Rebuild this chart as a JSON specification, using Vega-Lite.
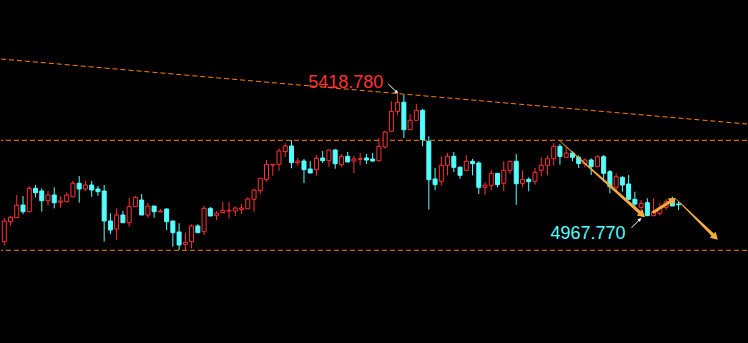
{
"$schema": "https://vega.github.io/schema/vega-lite/v6.json",
"width": 748, "height": 343, "padding": 0,
"autosize": {"type": "fit", "contains": "padding"},
"background": "#000000",
"config": {"view": {"stroke": null}, "scale": {"continuousPadding": 0}},
"datasets": {
"candles": [
{"i":0,"o":4872.8,"h":4960.4,"l":4858.0,"c":4949.3},
{"i":1,"o":4946.7,"h":4968.9,"l":4931.9,"c":4963.0},
{"i":2,"o":4961.5,"h":5045.4,"l":4961.5,"c":5007.3},
{"i":3,"o":5008.4,"h":5041.7,"l":4975.2,"c":4983.7},
{"i":4,"o":4983.7,"h":5078.7,"l":4983.7,"c":5070.2},
{"i":5,"o":5070.2,"h":5082.4,"l":5036.9,"c":5053.9},
{"i":6,"o":5060.2,"h":5070.2,"l":4983.7,"c":5024.3},
{"i":7,"o":5024.3,"h":5060.2,"l":5005.9,"c":5045.4},
{"i":8,"o":5045.4,"h":5073.9,"l":4996.2,"c":5016.9},
{"i":9,"o":5018.4,"h":5040.6,"l":4998.5,"c":5023.2},
{"i":10,"o":5020.6,"h":5055.4,"l":5020.6,"c":5045.4},
{"i":11,"o":5039.1,"h":5097.2,"l":5039.1,"c":5088.7},
{"i":12,"o":5088.7,"h":5115.6,"l":5016.9,"c":5067.6},
{"i":13,"o":5067.6,"h":5097.2,"l":5060.2,"c":5082.4},
{"i":14,"o":5082.4,"h":5097.2,"l":5039.1,"c":5063.9},
{"i":15,"o":5067.6,"h":5078.7,"l":5042.8,"c":5057.6},
{"i":16,"o":5060.2,"h":5082.4,"l":4872.8,"c":4949.3},
{"i":17,"o":4949.3,"h":4977.8,"l":4900.1,"c":4916.0},
{"i":18,"o":4919.7,"h":4996.2,"l":4879.1,"c":4971.5},
{"i":19,"o":4971.5,"h":4986.3,"l":4943.0,"c":4943.0},
{"i":20,"o":4943.0,"h":5033.2,"l":4928.2,"c":5002.2},
{"i":21,"o":5002.2,"h":5041.7,"l":5002.2,"c":5036.9},
{"i":22,"o":5026.9,"h":5049.1,"l":4971.5,"c":4971.5},
{"i":23,"o":4971.5,"h":5015.8,"l":4961.5,"c":5004.7},
{"i":24,"o":5004.7,"h":5004.7,"l":4961.5,"c":4983.7},
{"i":25,"o":4982.6,"h":4993.6,"l":4982.6,"c":4986.3},
{"i":26,"o":4993.6,"h":4996.2,"l":4916.0,"c":4946.7},
{"i":27,"o":4949.3,"h":4949.3,"l":4854.3,"c":4906.0},
{"i":28,"o":4908.6,"h":4940.8,"l":4842.1,"c":4860.6},
{"i":29,"o":4863.2,"h":4906.0,"l":4842.1,"c":4870.6},
{"i":30,"o":4872.8,"h":4937.1,"l":4848.4,"c":4930.8},
{"i":31,"o":4930.8,"h":4937.1,"l":4906.0,"c":4906.0},
{"i":32,"o":4909.7,"h":5005.9,"l":4897.5,"c":4996.2},
{"i":33,"o":4996.2,"h":5001.0,"l":4967.8,"c":4967.8},
{"i":34,"o":4968.9,"h":4986.3,"l":4953.0,"c":4977.8},
{"i":35,"o":4980.0,"h":5019.5,"l":4980.0,"c":4988.8},
{"i":36,"o":4986.3,"h":5019.5,"l":4959.3,"c":4988.8},
{"i":37,"o":4986.3,"h":5002.2,"l":4967.8,"c":4997.3},
{"i":38,"o":4992.5,"h":5011.0,"l":4975.2,"c":4997.3},
{"i":39,"o":4994.8,"h":5036.9,"l":4994.8,"c":5030.6},
{"i":40,"o":5029.5,"h":5067.6,"l":4983.7,"c":5063.9},
{"i":41,"o":5061.3,"h":5107.1,"l":5049.1,"c":5107.1},
{"i":42,"o":5103.4,"h":5174.8,"l":5094.6,"c":5158.9},
{"i":43,"o":5156.3,"h":5158.9,"l":5116.8,"c":5158.9},
{"i":44,"o":5158.9,"h":5218.0,"l":5135.2,"c":5208.1},
{"i":45,"o":5205.5,"h":5236.5,"l":5187.0,"c":5226.6},
{"i":46,"o":5226.6,"h":5248.7,"l":5144.1,"c":5164.8},
{"i":47,"o":5164.8,"h":5182.2,"l":5153.7,"c":5171.1},
{"i":48,"o":5171.1,"h":5178.5,"l":5089.8,"c":5138.9},
{"i":49,"o":5141.5,"h":5170.0,"l":5126.7,"c":5126.7},
{"i":50,"o":5138.9,"h":5193.3,"l":5116.8,"c":5181.1},
{"i":51,"o":5182.2,"h":5208.1,"l":5163.7,"c":5172.2},
{"i":52,"o":5172.2,"h":5211.8,"l":5148.9,"c":5211.8},
{"i":53,"o":5211.8,"h":5215.5,"l":5142.6,"c":5161.1},
{"i":54,"o":5157.4,"h":5197.0,"l":5148.9,"c":5188.5},
{"i":55,"o":5188.5,"h":5204.4,"l":5167.4,"c":5167.4},
{"i":56,"o":5171.1,"h":5189.6,"l":5126.7,"c":5178.5},
{"i":57,"o":5177.4,"h":5200.7,"l":5155.2,"c":5179.6},
{"i":58,"o":5182.2,"h":5197.0,"l":5160.0,"c":5174.8},
{"i":59,"o":5178.5,"h":5200.7,"l":5167.4,"c":5171.1},
{"i":60,"o":5172.2,"h":5256.1,"l":5172.2,"c":5225.4},
{"i":61,"o":5222.9,"h":5282.0,"l":5216.6,"c":5278.3},
{"i":62,"o":5280.9,"h":5391.8,"l":5280.9,"c":5354.8},
{"i":63,"o":5354.8,"h":5418.78,"l":5340.0,"c":5388.1},
{"i":64,"o":5388.1,"h":5416.2,"l":5256.1,"c":5286.8},
{"i":65,"o":5286.8,"h":5344.8,"l":5286.8,"c":5321.6},
{"i":66,"o":5321.6,"h":5381.8,"l":5321.6,"c":5358.5},
{"i":67,"o":5358.5,"h":5364.4,"l":5225.4,"c":5249.8},
{"i":68,"o":5243.9,"h":5262.4,"l":4991.1,"c":5102.0},
{"i":69,"o":5104.6,"h":5145.2,"l":5062.8,"c":5083.5},
{"i":70,"o":5096.1,"h":5188.5,"l":5079.8,"c":5155.2},
{"i":71,"o":5155.2,"h":5200.7,"l":5118.2,"c":5188.5},
{"i":72,"o":5188.5,"h":5204.4,"l":5130.4,"c":5147.8},
{"i":73,"o":5147.8,"h":5151.5,"l":5105.7,"c":5118.2},
{"i":74,"o":5136.7,"h":5192.2,"l":5136.7,"c":5170.0},
{"i":75,"o":5170.0,"h":5178.5,"l":5118.2,"c":5161.1},
{"i":76,"o":5163.7,"h":5170.0,"l":5049.1,"c":5073.9},
{"i":77,"o":5073.9,"h":5092.4,"l":5046.5,"c":5081.3},
{"i":78,"o":5081.3,"h":5138.9,"l":5062.8,"c":5125.6},
{"i":79,"o":5125.6,"h":5125.6,"l":5073.9,"c":5083.5},
{"i":80,"o":5088.7,"h":5170.0,"l":5059.1,"c":5136.7},
{"i":81,"o":5136.7,"h":5170.0,"l":5123.0,"c":5170.0},
{"i":82,"o":5170.0,"h":5197.0,"l":5009.5,"c":5087.2},
{"i":83,"o":5088.7,"h":5136.7,"l":5076.1,"c":5103.4},
{"i":84,"o":5103.4,"h":5110.8,"l":5059.1,"c":5094.6},
{"i":85,"o":5096.1,"h":5145.2,"l":5083.5,"c":5129.3},
{"i":86,"o":5136.7,"h":5184.8,"l":5114.5,"c":5155.2},
{"i":87,"o":5155.2,"h":5192.2,"l":5118.2,"c":5179.6},
{"i":88,"o":5179.6,"h":5237.6,"l":5155.2,"c":5225.4},
{"i":89,"o":5225.4,"h":5233.9,"l":5157.4,"c":5188.5},
{"i":90,"o":5184.8,"h":5221.7,"l":5184.8,"c":5200.7},
{"i":91,"o":5200.7,"h":5207.0,"l":5170.0,"c":5184.8},
{"i":92,"o":5184.8,"h":5192.2,"l":5145.2,"c":5161.9},
{"i":93,"o":5160.0,"h":5181.1,"l":5147.8,"c":5174.8},
{"i":94,"o":5174.8,"h":5181.1,"l":5119.3,"c":5150.0},
{"i":95,"o":5150.0,"h":5193.3,"l":5150.0,"c":5187.0},
{"i":96,"o":5187.0,"h":5193.3,"l":5094.6,"c":5125.6},
{"i":97,"o":5131.5,"h":5137.8,"l":5051.7,"c":5076.1},
{"i":98,"o":5073.9,"h":5125.6,"l":5061.3,"c":5113.1},
{"i":99,"o":5110.8,"h":5115.6,"l":5057.6,"c":5082.4},
{"i":100,"o":5086.1,"h":5119.3,"l":5029.5,"c":5029.5},
{"i":101,"o":5029.5,"h":5057.6,"l":5002.2,"c":5012.1},
{"i":102,"o":4999.9,"h":5026.9,"l":4977.8,"c":5014.7},
{"i":103,"o":5016.9,"h":5033.2,"l":4967.77,"c":4968.9},
{"i":104,"o":4968.9,"h":5033.2,"l":4968.9,"c":4983.7},
{"i":105,"o":4977.8,"h":5016.9,"l":4968.9,"c":4996.2},
{"i":106,"o":4999.9,"h":5029.5,"l":4989.9,"c":5020.6},
{"i":107,"o":5029.5,"h":5039.1,"l":5004.7,"c":5004.7},
{"i":108,"o":5012.1,"h":5020.6,"l":4989.9,"c":5009.5}
],
"levels": [{"p":5247.6},{"p":4841.0}],
"trend": [{"i1":-0.527,"p1":5548.2,"i2":118.96,"p2":5307.9}],
"shafts": [
{"a":1,"s":0,"i":88.93,"p":5246.1},{"a":1,"s":1,"i":102.19,"p":4972.2},
{"a":2,"s":0,"i":103.83,"p":4980.0},{"a":2,"s":1,"i":107.12,"p":5027.7},
{"a":3,"s":0,"i":107.67,"p":5029.6},{"a":3,"s":1,"i":113.88,"p":4889.4}
],
"heads": [{"a":1,"i":102.19,"p":4972.2},{"a":2,"i":107.12,"p":5027.7},{"a":3,"i":113.88,"p":4889.4}],
"wlines": [
{"w":1,"i":61.5,"p":5455.8},{"w":1,"i":63.05,"p":5421.4},
{"w":2,"i":100.48,"p":4924.5},{"w":2,"i":101.98,"p":4959.3}
],
"wheads": [{"w":1,"i":62.85,"p":5425.4},{"w":2,"i":101.8,"p":4955.0}],
"labels": [
{"k":"hi","i":61.5,"p":5455.8,"t":"5418.780"},
{"k":"lo","i":100.48,"p":4924.5,"t":"4967.770"}
]
},
"layer": [
{"data":{"name":"levels"},"mark":{"type":"rule","color":"#ff8000","strokeWidth":1,"strokeDash":[5,3]},
 "encoding":{"y":{"field":"p","type":"quantitative","scale":{"domain":[4498.3,5766.3],"nice":false,"zero":false},"axis":null}}},
{"data":{"name":"trend"},"mark":{"type":"rule","color":"#ff8000","strokeWidth":1,"strokeDash":[5,3]},
 "encoding":{
  "x":{"field":"i1","type":"quantitative","scale":{"domain":[-0.527,118.96],"nice":false,"zero":false,"padding":0},"axis":null},
  "y":{"field":"p1","type":"quantitative","scale":{"domain":[4498.3,5766.3],"nice":false,"zero":false},"axis":null},
  "x2":{"field":"i2"},"y2":{"field":"p2"}}},
{"data":{"name":"candles"},"mark":{"type":"rule","strokeWidth":1},
 "encoding":{
  "x":{"field":"i","type":"quantitative","scale":{"domain":[-0.527,118.96],"nice":false,"zero":false,"padding":0},"axis":null},
  "y":{"field":"l","type":"quantitative","scale":{"domain":[4498.3,5766.3],"nice":false,"zero":false},"axis":null},
  "y2":{"field":"h"},
  "color":{"condition":{"test":"datum.c >= datum.o","value":"#ff3232"},"value":"#54ffff"}}},
{"data":{"name":"candles"},"mark":{"type":"bar","width":4,"strokeWidth":1},
 "encoding":{
  "x":{"field":"i","type":"quantitative","scale":{"domain":[-0.527,118.96],"nice":false,"zero":false,"padding":0},"axis":null},
  "y":{"field":"o","type":"quantitative","scale":{"domain":[4498.3,5766.3],"nice":false,"zero":false},"axis":null},
  "y2":{"field":"c"},
  "fill":{"condition":{"test":"datum.c >= datum.o","value":"#000000"},"value":"#54ffff"},
  "stroke":{"condition":{"test":"datum.c >= datum.o","value":"#ff3232"},"value":"#54ffff"}}},
{"data":{"name":"shafts"},"transform":[{"filter":"datum.a != 2"}],"mark":{"type":"trail","color":"#f7ac3a"},
 "encoding":{
  "x":{"field":"i","type":"quantitative","axis":null},
  "y":{"field":"p","type":"quantitative","axis":null},
  "size":{"field":"s","type":"quantitative","scale":{"domain":[0,1],"range":[0.5,3.5]},"legend":null},
  "detail":{"field":"a"},
  "order":{"field":"s"}}},
{"data":{"name":"shafts"},"transform":[{"filter":"datum.a == 2"}],"mark":{"type":"line","color":"#f7ac3a","strokeWidth":3},
 "encoding":{
  "x":{"field":"i","type":"quantitative","axis":null},
  "y":{"field":"p","type":"quantitative","axis":null},
  "order":{"field":"s"}}},
{"data":{"name":"heads"},"transform":[{"filter":"datum.a == 1"}],"mark":{"type":"point","shape":"triangle-up","filled":true,"size":70,"angle":131.7,"color":"#f7ac3a","opacity":1},
 "encoding":{"x":{"field":"i","type":"quantitative","axis":null},"y":{"field":"p","type":"quantitative","axis":null}}},
{"data":{"name":"heads"},"transform":[{"filter":"datum.a == 2"}],"mark":{"type":"point","shape":"triangle-up","filled":true,"size":70,"angle":58.4,"color":"#f7ac3a","opacity":1},
 "encoding":{"x":{"field":"i","type":"quantitative","axis":null},"y":{"field":"p","type":"quantitative","axis":null}}},
{"data":{"name":"heads"},"transform":[{"filter":"datum.a == 3"}],"mark":{"type":"point","shape":"triangle-up","filled":true,"size":70,"angle":134.6,"color":"#f7ac3a","opacity":1},
 "encoding":{"x":{"field":"i","type":"quantitative","axis":null},"y":{"field":"p","type":"quantitative","axis":null}}},
{"data":{"name":"wlines"},"mark":{"type":"line","color":"#ffffff","strokeWidth":1},
 "encoding":{
  "x":{"field":"i","type":"quantitative","axis":null},
  "y":{"field":"p","type":"quantitative","axis":null},
  "detail":{"field":"w"}}},
{"data":{"name":"wheads"},"transform":[{"filter":"datum.w == 1"}],"mark":{"type":"point","shape":"triangle-up","filled":true,"size":14,"angle":133.8,"color":"#ffffff","opacity":1},
 "encoding":{"x":{"field":"i","type":"quantitative","axis":null},"y":{"field":"p","type":"quantitative","axis":null}}},
{"data":{"name":"wheads"},"transform":[{"filter":"datum.w == 2"}],"mark":{"type":"point","shape":"triangle-up","filled":true,"size":14,"angle":45,"color":"#ffffff","opacity":1},
 "encoding":{"x":{"field":"i","type":"quantitative","axis":null},"y":{"field":"p","type":"quantitative","axis":null}}},
{"data":{"name":"labels"},"transform":[{"filter":"datum.k == 'hi'"}],"mark":{"type":"text","font":"Liberation Sans","fontSize":18,"align":"right","baseline":"alphabetic","dx":-5,"dy":4.5,"color":"#ff3232"},
 "encoding":{"x":{"field":"i","type":"quantitative","axis":null},"y":{"field":"p","type":"quantitative","axis":null},"text":{"field":"t"}}},
{"data":{"name":"labels"},"transform":[{"filter":"datum.k == 'lo'"}],"mark":{"type":"text","font":"Liberation Sans","fontSize":18,"align":"right","baseline":"alphabetic","dx":-6,"dy":11,"color":"#54ffff"},
 "encoding":{"x":{"field":"i","type":"quantitative","axis":null},"y":{"field":"p","type":"quantitative","axis":null},"text":{"field":"t"}}}
]
}
